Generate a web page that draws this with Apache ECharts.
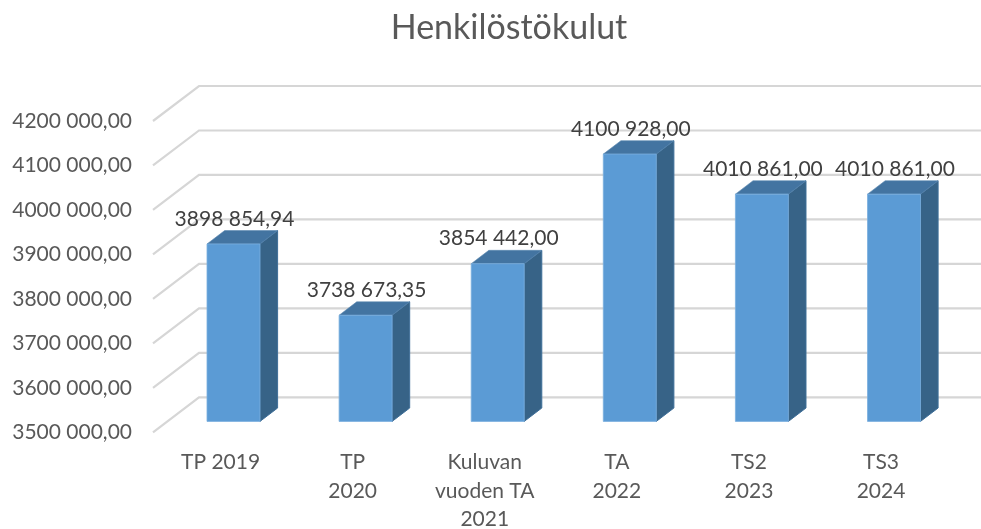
<!DOCTYPE html>
<html>
<head>
<meta charset="utf-8">
<style>html,body{margin:0;padding:0;background:#fff;overflow:hidden}#c{width:981px;height:529px}</style>
<script src="https://cdn.jsdelivr.net/npm/echarts@6/dist/echarts.min.js"></script>
</head>
<body>
<div id="c"></div>
<script>
var titleText = 'Henkilöstökulut';
var categories = ['TP 2019', 'TP\n2020', 'Kuluvan\nvuoden TA\n2021', 'TA\n2022', 'TS2\n2023', 'TS3\n2024'];
var values = [3898854.94, 3738673.35, 3854442.00, 4100928.00, 4010861.00, 4010861.00];
var yTicks = [3500000, 3600000, 3700000, 3800000, 3900000, 4000000, 4100000, 4200000];

var FONT = 'Lato';
var DX = 46, DY = 35;            // 3D depth offset of the chart box
var FRONT = 0.314, BACK = 0.697; // bar depth positions in the box
var BAR = 0.401;                 // bar width as a share of the band

function fmt(v) {
  var s = v.toFixed(2).split('.');
  var i = s[0];
  return i.slice(0, i.length - 3) + ' ' + i.slice(-3) + ',' + s[1];
}

var chart = echarts.init(document.getElementById('c'), null, {renderer: 'canvas'});
chart.setOption({
  animation: false,
  backgroundColor: '#ffffff',
  title: {
    text: titleText, left: 504, top: 6, textAlign: 'center',
    textStyle: {fontFamily: FONT, fontSize: 34, fontWeight: 'normal', color: '#595959'}
  },
  grid: {left: 153, top: 121, width: 792.6, height: 311.4, containLabel: false, outerBoundsMode: 'none'},
  xAxis: {
    type: 'category', data: categories,
    axisLine: {show: false}, axisTick: {show: false}, splitLine: {show: false},
    axisLabel: {
      interval: 0, margin: 16, lineHeight: 28.5, fontFamily: FONT, fontSize: 21, color: '#595959',
      verticalAlign: 'top', padding: [0, 0, 0, 3]
    }
  },
  yAxis: {
    type: 'value', min: yTicks[0], max: yTicks[yTicks.length - 1], interval: 100000,
    axisLine: {show: false}, axisTick: {show: false}, splitLine: {show: false},
    axisLabel: {margin: 21, fontFamily: FONT, fontSize: 21, color: '#595959', formatter: fmt, padding: [3, 0, 0, 0]}
  },
  series: [
    {
      type: 'custom', z: 1, silent: true,
      data: yTicks.map(function (t) { return [0, t]; }),
      encode: {x: 0, y: 1},
      renderItem: function (params, api) {
        var y = api.coord([0, api.value(1)])[1];
        var cs = params.coordSys;
        var x0 = cs.x, xb = cs.x + DX, xe = cs.x + cs.width + DX;
        return {
          type: 'polyline',
          shape: {points: [[x0, y], [xb, y - DY], [xe, y - DY]]},
          style: {stroke: '#d6d6d6', lineWidth: 2.2, fill: null}
        };
      }
    },
    {
      type: 'custom', z: 2, silent: true,
      data: values.map(function (v, i) { return [i, v]; }),
      encode: {x: 0, y: 1},
      renderItem: function (params, api) {
        var i = api.value(0), v = api.value(1);
        var band = api.size([1, 0])[0];
        var top = api.coord([i, v]);
        var base = api.coord([i, yTicks[0]]);
        var w = band * BAR;
        var fx = FRONT * DX, fy = FRONT * DY, bx = BACK * DX, by = BACK * DY;
        var l = base[0] - w / 2 + fx, r = l + w;
        var yT = top[1] - fy, yB = base[1] - fy;
        var ox = bx - fx, oy = by - fy;
        return {
          type: 'group',
          children: [
            {type: 'polygon', shape: {points: [[r, yT], [r + ox, yT - oy], [r + ox, yB - oy], [r, yB]]},
             style: {fill: '#376387', stroke: '#3f6f99', lineWidth: 1}},
            {type: 'polygon', shape: {points: [[l, yT], [l + ox, yT - oy], [r + ox, yT - oy], [r, yT]]},
             style: {fill: '#4374a1', stroke: '#5b88b0', lineWidth: 0.6}},
            {type: 'rect', shape: {x: l, y: yT, width: w, height: yB - yT},
             style: {fill: '#5b9bd5', stroke: '#7aaede', lineWidth: 0.8}},
            {type: 'text', x: l + w / 2 + 1, y: yT - 25,
             style: {text: fmt(v), fill: '#404040', font: '21px ' + FONT, align: 'center', verticalAlign: 'middle'}}
          ]
        };
      }
    }
  ]
});
</script>
</body>
</html>
